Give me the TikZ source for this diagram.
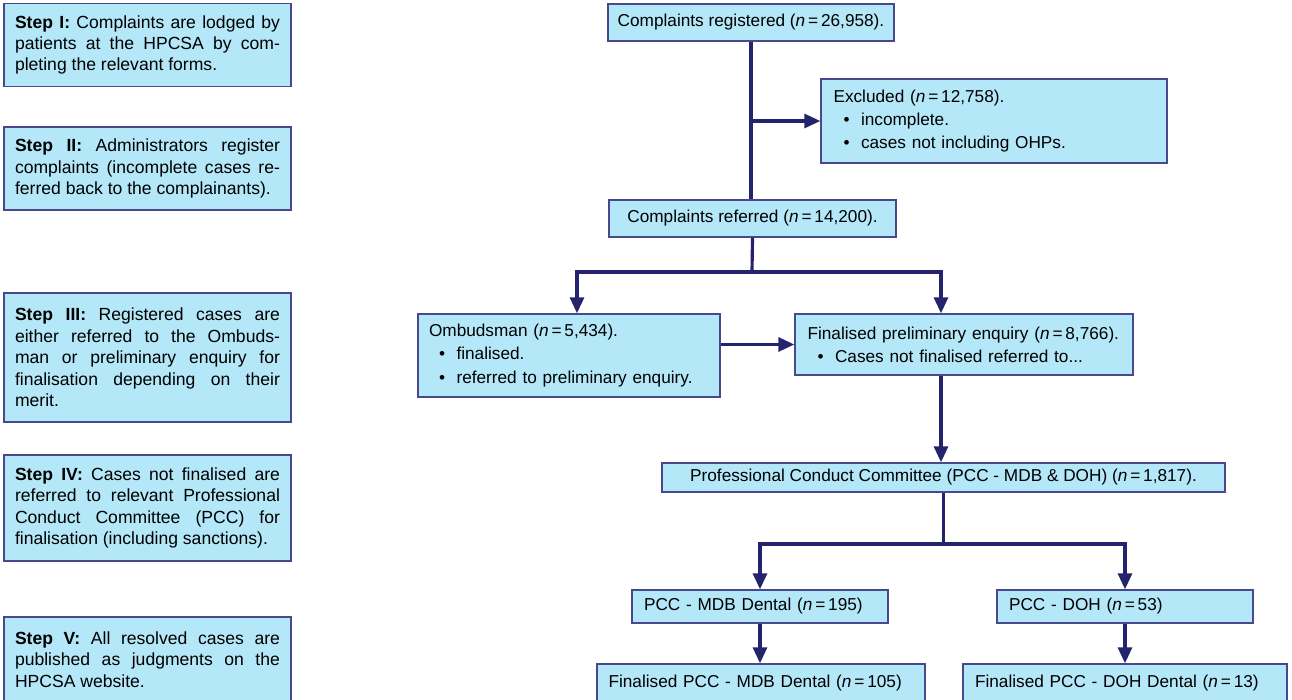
\documentclass[tikz,border=0pt]{standalone}
\usepackage{fontspec}
\setmainfont{Liberation Sans}
\usetikzlibrary{arrows.meta}
\definecolor{boxfill}{RGB}{180,231,248}
\definecolor{boxline}{RGB}{72,72,140}
\definecolor{flowline}{RGB}{35,35,110}
\newcommand{\itm}{\\\hspace*{0.2cm}\textbullet\hspace{0.23cm}}
\newcommand{\nn}{\textit{n}\,=\,}

\begin{document}
\begin{tikzpicture}[x=0.02cm,y=-0.02cm,
    box/.style={draw=boxline,fill=boxfill,line width=0.8pt,inner sep=0pt,
      font=\fontsize{9.8}{13.2}\selectfont},
    stepbox/.style={box,text width=5.3cm,align=justify,minimum width=5.74cm,
      font=\fontsize{10}{12.2}\selectfont},
    link/.style={draw=flowline,line width=1.8pt},
    flow/.style={link,-{Triangle[length=0.32cm,width=0.28cm]}}]
    \useasboundingbox (0,0) rectangle (1292,700);
    \clip (0,0) rectangle (1292,700);

    %STEPS
    \node[stepbox,minimum height=1.66cm] (s1) at (147.5,45)
      {\textbf{Step I:} Complaints are lodged by\linebreak
       patients at the HPCSA by com-\linebreak pleting the relevant forms.};
    \node[stepbox,minimum height=1.66cm] (s2) at (147.5,168.5)
      {\textbf{Step II:} Administrators register\linebreak
       complaints (incomplete cases re-\linebreak ferred back to the complainants).};
    \node[stepbox,minimum height=2.58cm] (s3) at (147.5,357.5)
      {\textbf{Step III:} Registered cases are\linebreak
       either referred to the Ombuds-\linebreak man or preliminary enquiry for\linebreak
       finalisation depending on their\linebreak merit.};
    \node[stepbox,minimum height=2.12cm] (s4) at (147.5,508)
      {\textbf{Step IV:} Cases not finalised are\linebreak
       referred to relevant Professional\linebreak
       Conduct Committee (PCC) for\linebreak finalisation (including sanctions).};
    \node[stepbox,minimum height=1.7cm] (s5) at (147.5,659.5)
      {\textbf{Step V:} All resolved cases are\linebreak
       published as judgments on the\linebreak HPCSA website.};

    %FLOW
    \node[box,minimum width=5.72cm,minimum height=0.74cm] (reg) at (751,22.5)
      {Complaints registered (\nn26,958).};
    \node[box,text width=6.42cm,align=left,minimum width=6.92cm,minimum height=1.68cm]
      (exc) at (994,121)
      {Excluded (\nn12,758).\itm incomplete.\itm cases not including OHPs.};
    \node[box,minimum width=5.74cm,minimum height=0.74cm] (ref) at (752.5,218.5)
      {Complaints referred (\nn14,200).};
    \node[box,text width=5.6cm,align=left,minimum width=6.04cm,minimum height=1.66cm]
      (omb) at (569,355.5)
      {Ombudsman (\nn5,434).\itm finalised.\itm \mbox{referred to preliminary enquiry.}};
    \node[box,text width=6.26cm,align=left,minimum width=6.76cm,minimum height=1.22cm]
      (fin) at (964,344.5)
      {\mbox{Finalised preliminary enquiry (\nn8,766).}\itm Cases not finalised referred to...};
    \node[box,minimum width=11.26cm,minimum height=0.58cm] (pcc) at (943.5,477.5)
      {Professional Conduct Committee (PCC - MDB \& DOH) (\nn1,817).};
    \node[box,text width=4.64cm,align=left,minimum width=5.12cm,minimum height=0.66cm]
      (mdb) at (760,606.5) {PCC - MDB Dental (\nn195)};
    \node[box,text width=4.64cm,align=left,minimum width=5.12cm,minimum height=0.66cm]
      (doh) at (1125,606.5) {PCC - DOH (\nn53)};
    \node[box,text width=6.1cm,align=left,minimum width=6.56cm,minimum height=0.76cm]
      (fmdb) at (761,683) {\mbox{Finalised PCC - MDB Dental (\nn105)}};
    \node[box,text width=6.0cm,align=left,minimum width=6.48cm,minimum height=0.76cm]
      (fdoh) at (1125,683) {\mbox{Finalised PCC - DOH Dental (\nn13)}};

    %CONNECTORS
    \coordinate (j1) at (752,272);
    \coordinate (jl) at (577,272);
    \coordinate (jr) at (941,272);
    \coordinate (j2) at (943.5,544);
    \draw[link] (reg.south) -- (reg.south |- ref.north);
    \draw[flow] (reg.south |- exc.west) -- (exc.west);
    \draw[link] (ref.south) -- (j1);
    \draw[flow] (j1) -| (jl |- omb.north);
    \draw[flow] (j1) -| (jr |- fin.north);
    \draw[flow] (omb.east |- fin.west) -- (fin.west);
    \draw[flow] (jr |- fin.south) -- (jr |- pcc.north);
    \draw[link] (pcc.south) -- (j2);
    \draw[flow] (j2) -| (mdb.north);
    \draw[flow] (j2) -| (doh.north);
    \draw[flow] (mdb.south) -- (mdb.south |- fmdb.north);
    \draw[flow] (doh.south) -- (doh.south |- fdoh.north);
\end{tikzpicture}
\end{document}
